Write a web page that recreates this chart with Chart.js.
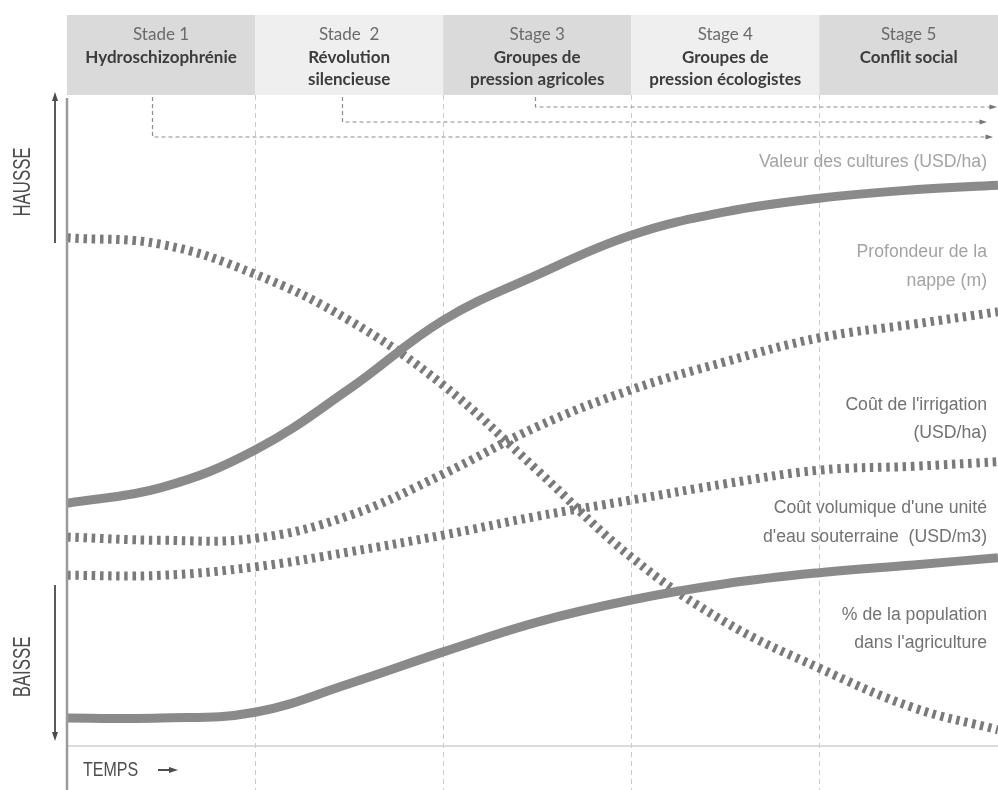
<!DOCTYPE html>
<html>
<head>
<meta charset="utf-8">
<script src="https://cdn.jsdelivr.net/npm/chart.js@4/dist/chart.umd.min.js"></script>
<style>
  html, body { margin: 0; padding: 0; background: #ffffff; }
  #chart { display: block; }
</style>
</head>
<body>
<canvas id="chart" width="998" height="790"></canvas>
<script>
// Stages (x axis in stage units, 0 = start of stage 1)
const stageBounds = [0, 1, 2, 3, 4, 5]
const stageTitles = [
  ["Stade 1", "Hydroschizophrénie"],
  ["Stade  2", "Révolution", "silencieuse"],
  ["Stage 3", "Groupes de", "pression agricoles"],
  ["Stage 4", "Groupes de", "pression écologistes"],
  ["Stage 5", "Conflit social"],
]

// Time points
const temps = [0, 0.5, 1, 1.5, 2, 2.5, 3, 3.5, 4, 4.5, 4.95]

// Relative levels (0 = baisse, 100 = hausse)
const valeurCultures = [37.4, 39.8, 45.6, 55.0, 65.6, 72.6, 78.7, 82.3, 84.4, 85.7, 86.4]
const profondeurNappe = [32.2, 31.7, 32.0, 35.5, 41.9, 49.2, 54.9, 59.2, 62.9, 65.0, 66.9]
const coutIrrigation = [26.3, 26.3, 27.6, 29.9, 32.5, 35.4, 37.9, 40.4, 42.5, 43.1, 43.8]
const coutVolumique = [4.3, 4.3, 5.2, 9.6, 14.5, 19.1, 22.5, 25.0, 26.7, 27.9, 29.0]
const populationAgricole = [78.3, 77.3, 72.7, 65.6, 55.6, 42.5, 29.1, 19.1, 12.0, 5.9, 2.5]

// Stage where each dashed "effect" arrow starts
const effectStarts = [0.45, 1.46, 2.49]

const seriesNames = [
  ["Valeur des cultures (USD/ha)"],
  ["Profondeur de la", "nappe (m)"],
  ["Coût de l'irrigation", "(USD/ha)"],
  ["Coût volumique d'une unité", "d'eau souterraine  (USD/m3)"],
  ["% de la population", "dans l'agriculture"],
]

// label placement (pixels) and colours, kept apart from the data
const labelLayout = [
  {ys: [162], color: "#a3a3a3"},
  {ys: [252, 281], color: "#a3a3a3"},
  {ys: [405, 433], color: "#727272"},
  {ys: [508, 537], color: "#727272"},
  {ys: [615, 643], color: "#727272"},
]

const toPoints = (values) => values.map((y, i) => ({x: temps[i], y}))

const solidLine = {
  borderColor: "#8a8a8a",
  borderWidth: 9,
  borderCapStyle: "butt",
}

const dottedLine = {
  borderColor: "#7a7a7a",
  borderWidth: 9,
  borderDash: [3.5, 4.7],
  borderCapStyle: "butt",
}

const arrowHead = (ctx, x, y, dir, size) => {
  // dir: "up" | "down" | "right"
  ctx.beginPath()
  if (dir === "up") {
    ctx.moveTo(x, y)
    ctx.lineTo(x - size / 2, y + size * 1.5)
    ctx.lineTo(x + size / 2, y + size * 1.5)
  } else if (dir === "down") {
    ctx.moveTo(x, y)
    ctx.lineTo(x - size / 2, y - size * 1.5)
    ctx.lineTo(x + size / 2, y - size * 1.5)
  } else {
    ctx.moveTo(x, y)
    ctx.lineTo(x - size * 1.5, y - size / 2)
    ctx.lineTo(x - size * 1.5, y + size / 2)
  }
  ctx.closePath()
  ctx.fill()
}

const squeezedText = (ctx, text, x, y, sx, rotate) => {
  ctx.save()
  ctx.translate(x, y)
  if (rotate) ctx.rotate(-Math.PI / 2)
  ctx.scale(sx, 1)
  ctx.fillText(text, 0, 0)
  ctx.restore()
}

const decorPlugin = {
  id: "decor",
  beforeDatasetsDraw(chart) {
    const {ctx, scales} = chart
    const x = scales.x
    const boxTop = 15
    const boxBottom = 95

    ctx.save()
    // stage header boxes
    stageTitles.forEach((lines, i) => {
      const x0 = x.getPixelForValue(stageBounds[i])
      const x1 = Math.min(x.getPixelForValue(stageBounds[i + 1]), chart.width)
      ctx.fillStyle = i % 2 === 0 ? "#dadada" : "#efefef"
      ctx.fillRect(x0, boxTop, x1 - x0, boxBottom - boxTop)

      const cx = (x0 + x1) / 2
      ctx.textAlign = "center"
      ctx.textBaseline = "middle"
      lines.forEach((line, j) => {
        ctx.font = j === 0 ? "17px Lato, sans-serif" : "bold 17px Lato, sans-serif"
        ctx.fillStyle = j === 0 ? "#6b6b6b" : "#3c3c3c"
        ctx.fillText(line, cx, 35 + j * 22.5)
      })
    })

    // stage separators
    ctx.strokeStyle = "#cbcbcb"
    ctx.lineWidth = 1
    ctx.setLineDash([5, 4])
    stageBounds.slice(1, 5).forEach((b) => {
      const px = Math.round(x.getPixelForValue(b)) + 0.5
      ctx.beginPath()
      ctx.moveTo(px, boxBottom)
      ctx.lineTo(px, chart.height)
      ctx.stroke()
    })

    // dashed effect arrows
    ctx.strokeStyle = "#8c8c8c"
    ctx.fillStyle = "#777777"
    ctx.lineWidth = 1.2
    ctx.setLineDash([4, 3])
    const arrowYs = [137, 122, 107]
    const arrowEnds = [993, 987, 997]
    effectStarts.forEach((s, i) => {
      const px = Math.round(x.getPixelForValue(s)) + 0.5
      ctx.beginPath()
      ctx.moveTo(px, boxBottom + 2)
      ctx.lineTo(px, arrowYs[i])
      ctx.lineTo(arrowEnds[i] - 6, arrowYs[i])
      ctx.stroke()
      arrowHead(ctx, arrowEnds[i], arrowYs[i], "right", 5)
    })
    ctx.setLineDash([])
    ctx.restore()
  },

  afterDatasetsDraw(chart) {
    const {ctx, chartArea} = chart
    ctx.save()

    // axes
    ctx.strokeStyle = "#d0d0d0"
    ctx.lineWidth = 1.5
    ctx.beginPath()
    ctx.moveTo(chartArea.left, chartArea.bottom)
    ctx.lineTo(chart.width, chartArea.bottom)
    ctx.stroke()

    ctx.strokeStyle = "#9a9a9a"
    ctx.lineWidth = 2.5
    ctx.beginPath()
    ctx.moveTo(chartArea.left, chartArea.top + 1)
    ctx.lineTo(chartArea.left, chart.height)
    ctx.stroke()

    // hausse / baisse arrows
    ctx.strokeStyle = "#5a5a5a"
    ctx.fillStyle = "#4a4a4a"
    ctx.lineWidth = 2
    ctx.beginPath()
    ctx.moveTo(55, 243)
    ctx.lineTo(55, 100)
    ctx.stroke()
    arrowHead(ctx, 55, 92, "up", 6)
    ctx.beginPath()
    ctx.moveTo(55, 585)
    ctx.lineTo(55, 732)
    ctx.stroke()
    arrowHead(ctx, 55, 741, "down", 6)

    ctx.fillStyle = "#4d4d4d"
    ctx.font = "24px 'Liberation Sans', Arial, sans-serif"
    ctx.textAlign = "center"
    ctx.textBaseline = "middle"
    squeezedText(ctx, "HAUSSE", 23, 182, 0.7, true)
    squeezedText(ctx, "BAISSE", 23, 667, 0.7, true)

    // time label
    ctx.textAlign = "left"
    ctx.font = "20px 'Liberation Sans', Arial, sans-serif"
    squeezedText(ctx, "TEMPS", 83, 770, 0.8, false)
    ctx.strokeStyle = "#4d4d4d"
    ctx.lineWidth = 2
    ctx.beginPath()
    ctx.moveTo(158, 770)
    ctx.lineTo(171, 770)
    ctx.stroke()
    ctx.fillStyle = "#4d4d4d"
    arrowHead(ctx, 178, 770, "right", 6)

    // series labels, right aligned
    ctx.font = "18px 'Liberation Sans', Arial, sans-serif"
    ctx.textAlign = "right"
    seriesNames.forEach((lines, i) => {
      ctx.fillStyle = labelLayout[i].color
      lines.forEach((line, j) => {
        squeezedText(ctx, line, 987, labelLayout[i].ys[j], 0.98, false)
      })
    })
    ctx.restore()
  },
}

new Chart(document.getElementById("chart"), {
  type: "line",
  data: {
    datasets: [
      {label: seriesNames[0].join(" "), data: toPoints(valeurCultures), ...solidLine},
      {label: seriesNames[1].join(" "), data: toPoints(profondeurNappe), ...dottedLine},
      {label: seriesNames[2].join(" "), data: toPoints(coutIrrigation), ...dottedLine},
      {label: seriesNames[3].join(" "), data: toPoints(coutVolumique), ...solidLine},
      {label: seriesNames[4].join(" "), data: toPoints(populationAgricole), ...dottedLine},
    ],
  },
  options: {
    responsive: false,
    animation: false,
    layout: {
      padding: {left: 67, right: 0, top: 97, bottom: 44},
    },
    elements: {
      point: {radius: 0},
      line: {tension: 0.4, fill: false},
    },
    plugins: {
      legend: {display: false},
      tooltip: {enabled: false},
    },
    scales: {
      x: {type: "linear", min: 0, max: 4.95, display: false},
      y: {min: 0, max: 100, display: false},
    },
  },
  plugins: [decorPlugin],
})
</script>
</body>
</html>
